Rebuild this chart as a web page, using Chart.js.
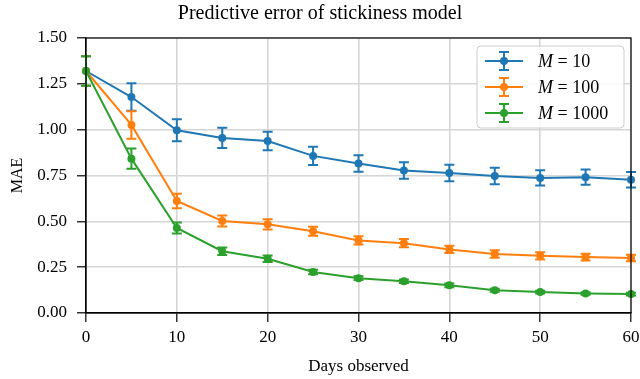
<!DOCTYPE html>
<html>
<head>
<meta charset="utf-8">
<script src="https://cdn.jsdelivr.net/npm/chart.js@4"></script>
<style>
  html, body { margin: 0; padding: 0; background: #fff; }
  #wrap { width: 640px; height: 379px; }
</style>
</head>
<body>
<div id="wrap"><canvas id="errChart" width="640" height="379"></canvas></div>
<script>
// Data
const days = [0, 5, 10, 15, 20, 25, 30, 35, 40, 45, 50, 55, 60];

const maeM10 = [1.32, 1.178, 0.997, 0.955, 0.938, 0.857, 0.816, 0.777, 0.764, 0.747, 0.737, 0.741, 0.727];
const errM10 = [0.08, 0.075, 0.06, 0.055, 0.05, 0.05, 0.045, 0.045, 0.045, 0.045, 0.042, 0.042, 0.042];

const maeM100 = [1.32, 1.026, 0.611, 0.502, 0.484, 0.446, 0.396, 0.381, 0.347, 0.322, 0.312, 0.305, 0.300];
const errM100 = [0.08, 0.075, 0.04, 0.03, 0.028, 0.025, 0.022, 0.022, 0.02, 0.02, 0.02, 0.018, 0.018];

const maeM1000 = [1.32, 0.842, 0.464, 0.337, 0.296, 0.224, 0.190, 0.173, 0.151, 0.124, 0.114, 0.106, 0.103];
const errM1000 = [0.08, 0.055, 0.03, 0.02, 0.018, 0.012, 0.01, 0.01, 0.01, 0.008, 0.008, 0.007, 0.007];

const seriesLabels = ['M = 10', 'M = 100', 'M = 1000'];
const seriesColors = ['#1f77b4', '#ff7f0e', '#2ca02c'];
const yTicks = [0, 0.25, 0.5, 0.75, 1.0, 1.25, 1.5];

const serif = '"Liberation Serif", "DejaVu Serif", serif';

function toPoints(ys) {
  return days.map((d, i) => ({ x: d, y: ys[i] }));
}

// vertical error bars with caps
const errorBars = {
  id: 'errorBars',
  afterDatasetsDraw(chart) {
    const ctx = chart.ctx;
    const y = chart.scales.y;
    chart.data.datasets.forEach((ds, di) => {
      const meta = chart.getDatasetMeta(di);
      ctx.save();
      ctx.strokeStyle = ds.borderColor;
      ctx.lineWidth = 2;
      meta.data.forEach((pt, i) => {
        const v = ds.data[i].y;
        const e = ds.errors[i];
        const top = y.getPixelForValue(v + e);
        const bot = y.getPixelForValue(v - e);
        ctx.beginPath();
        ctx.moveTo(pt.x, top); ctx.lineTo(pt.x, bot);
        ctx.moveTo(pt.x - 5, top); ctx.lineTo(pt.x + 5, top);
        ctx.moveTo(pt.x - 5, bot); ctx.lineTo(pt.x + 5, bot);
        ctx.stroke();
      });
      ctx.restore();
    });
  }
};

// box around the plot + legend in the upper right corner
const frameAndLegend = {
  id: 'frameAndLegend',
  afterDraw(chart) {
    const ctx = chart.ctx;
    const a = chart.chartArea;
    ctx.save();
    ctx.strokeStyle = '#000';
    ctx.lineWidth = 1.2;
    ctx.strokeRect(a.left, a.top, a.right - a.left, a.bottom - a.top);

    const bx = 477, by = 46, bw = 147, bh = 82;
    ctx.fillStyle = 'rgba(255,255,255,0.85)';
    ctx.strokeStyle = '#cccccc';
    ctx.lineWidth = 1;
    ctx.beginPath();
    ctx.roundRect(bx, by, bw, bh, 4);
    ctx.fill();
    ctx.stroke();

    chart.data.datasets.forEach((ds, i) => {
      const cy = by + 15 + i * 26;
      const x0 = bx + 8, x1 = bx + 46, xm = (x0 + x1) / 2;
      ctx.strokeStyle = ds.borderColor;
      ctx.fillStyle = ds.borderColor;
      ctx.lineWidth = 2;
      ctx.beginPath();
      ctx.moveTo(x0, cy); ctx.lineTo(x1, cy);
      ctx.moveTo(xm, cy - 9); ctx.lineTo(xm, cy + 9);
      ctx.moveTo(xm - 5, cy - 9); ctx.lineTo(xm + 5, cy - 9);
      ctx.moveTo(xm - 5, cy + 9); ctx.lineTo(xm + 5, cy + 9);
      ctx.stroke();
      ctx.beginPath();
      ctx.arc(xm, cy, 4, 0, Math.PI * 2);
      ctx.fill();

      const parts = ds.label.split(' = ');
      ctx.fillStyle = '#000';
      ctx.textBaseline = 'middle';
      ctx.font = 'italic 18px ' + serif;
      ctx.fillText(parts[0], bx + 61, cy + 1);
      const w = ctx.measureText(parts[0]).width;
      ctx.font = '18px ' + serif;
      ctx.fillText(' = ' + parts[1], bx + 61 + w, cy + 1);
    });
    ctx.restore();
  }
};

const gridOpts = { color: '#d6d6d6', lineWidth: 1.6, tickColor: '#000', tickLength: 9, tickWidth: 1.2 };

new Chart(document.getElementById('errChart'), {
  type: 'line',
  data: {
    datasets: [
      { label: seriesLabels[0], data: toPoints(maeM10), errors: errM10 },
      { label: seriesLabels[1], data: toPoints(maeM100), errors: errM100 },
      { label: seriesLabels[2], data: toPoints(maeM1000), errors: errM1000 }
    ].map((ds, i) => ({
      ...ds,
      order: 2 - i,
      borderColor: seriesColors[i],
      backgroundColor: seriesColors[i],
      borderWidth: 2,
      pointRadius: 4,
      pointHoverRadius: 4,
      pointBorderWidth: 0,
      tension: 0,
      fill: false,
      clip: false
    }))
  },
  options: {
    responsive: false,
    animation: false,
    layout: { padding: { left: 0, right: 0, top: 0, bottom: 0 } },
    plugins: {
      legend: { display: false },
      tooltip: { enabled: false },
      title: {
        display: true,
        text: 'Predictive error of stickiness model',
        color: '#000',
        font: { family: serif, size: 20, weight: 'normal' },
        padding: { top: 2, bottom: 12 }
      }
    },
    scales: {
      x: {
        type: 'linear',
        min: 0,
        max: 60,
        afterFit(scale) {
          scale.height = 66;
          scale.paddingRight = 9;
          scale.paddingLeft = 0;
        },
        ticks: { stepSize: 10, color: '#000', font: { family: serif, size: 17 }, padding: 5, maxRotation: 0 },
        grid: gridOpts,
        border: { color: '#000', width: 1.2 },
        title: { display: true, text: 'Days observed', color: '#000', font: { family: serif, size: 17 }, padding: { top: 4, bottom: 2 } }
      },
      y: {
        min: 0,
        max: 1.5,
        afterBuildTicks(scale) {
          scale.ticks = yTicks.map((v) => ({ value: v }));
        },
        afterFit(scale) { scale.width = 86; },
        ticks: {
          color: '#000',
          font: { family: serif, size: 17 },
          padding: 10,
          callback(value) { return value.toFixed(2); }
        },
        grid: gridOpts,
        border: { color: '#000', width: 1.2 },
        title: { display: true, text: 'MAE', color: '#000', font: { family: serif, size: 16 }, padding: { top: 8, bottom: 0 } }
      }
    }
  },
  plugins: [errorBars, frameAndLegend]
});
</script>
</body>
</html>
